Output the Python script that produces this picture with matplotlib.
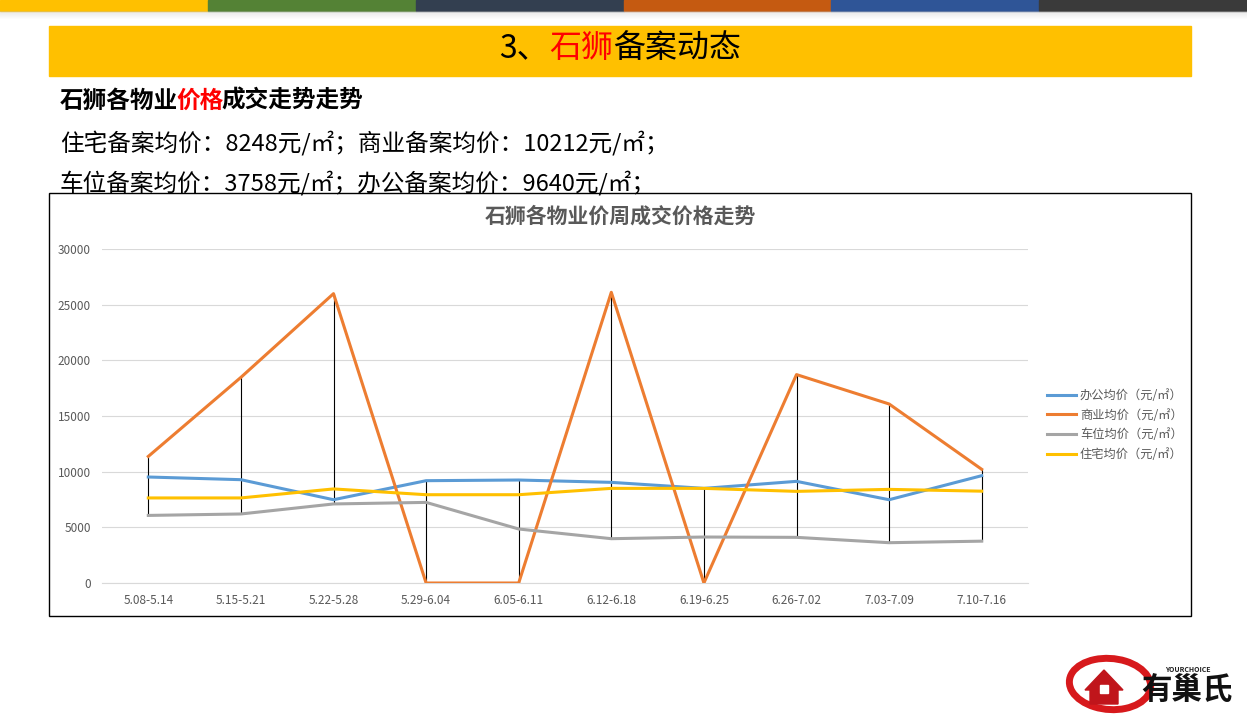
import numpy as np
import matplotlib
matplotlib.use("Agg")
import matplotlib.pyplot as plt
from matplotlib.patches import Rectangle, Ellipse, Polygon

plt.rcParams['font.family'] = ['Noto Sans CJK SC', 'DejaVu Sans']

categories = ["5.08-5.14", "5.15-5.21", "5.22-5.28", "5.29-6.04", "6.05-6.11",
              "6.12-6.18", "6.19-6.25", "6.26-7.02", "7.03-7.09", "7.10-7.16"]
office = [9520, 9280, 7480, 9190, 9250, 9040, 8500, 9130, 7480, 9640]
commercial = [11370, 18470, 25990, 0, 0, 26110, 0, 18720, 16080, 10212]
parking = [6070, 6200, 7100, 7240, 4850, 3980, 4130, 4100, 3620, 3758]
residential = [7640, 7640, 8450, 7930, 7930, 8500, 8500, 8230, 8410, 8248]
series_names = ["办公均价（元/㎡）", "商业均价（元/㎡）", "车位均价（元/㎡）", "住宅均价（元/㎡）"]
series_colors = ["#5B9BD5", "#ED7D31", "#A5A5A5", "#FFC000"]
yticks = [0, 5000, 10000, 15000, 20000, 25000, 30000]

W, H = 1247, 718
fig = plt.figure(figsize=(W / 100, H / 100), dpi=100)
fig.patch.set_facecolor("white")

def fx(px):
    return px / W

def fy(py):
    return 1 - py / H

# top stripe
stripe_colors = ["#FFC000", "#548235", "#333F50", "#C55A11", "#2F5597", "#3A3A3A"]
seg = W / len(stripe_colors)
for i, c in enumerate(stripe_colors):
    fig.patches.append(Rectangle((fx(i * seg), fy(11)), fx(seg), 11 / H,
                                 transform=fig.transFigure, color=c, zorder=1))
for k in range(8):
    fig.patches.append(Rectangle((0, fy(11 + k + 1)), 1, 1 / H, transform=fig.transFigure,
                                 color="#BFBFBF", alpha=0.35 * (1 - k / 8), zorder=1, lw=0))

# yellow title bar
fig.patches.append(Rectangle((fx(49), fy(76)), fx(1191 - 49), 50 / H,
                             transform=fig.transFigure, color="#FFC000", zorder=1))

fig.canvas.draw()
r = fig.canvas.get_renderer()

def text_width(txt, size, weight="normal"):
    t = fig.text(0, 0, txt, fontsize=size, fontweight=weight)
    w = t.get_window_extent(renderer=r).width
    t.remove()
    return w

def seq_text(x_px, y_px, parts, size, weight="normal", trim=0):
    x = x_px
    for txt, col in parts:
        t = fig.text(fx(x), fy(y_px), txt, fontsize=size, color=col, ha="left",
                     va="center", fontweight=weight)
        x += t.get_window_extent(renderer=r).width - trim
    return x

parts_title = [("3、", "black"), ("石狮", "#FF0000"), ("备案动态", "black")]
tw = sum(text_width(t, 23) for t, _ in parts_title)
seq_text(620 - tw / 2, 48, parts_title, 23)

seq_text(60, 101, [("石狮各物业", "black"), ("价格", "#FF0000"), ("成交走势走势", "black")],
         17, "bold", trim=2)
seq_text(60, 144, [("住宅备案均价：8248元/㎡；商业备案均价：10212元/㎡；", "black")], 17)
seq_text(60, 183, [("车位备案均价：3758元/㎡；办公备案均价：9640元/㎡；", "black")], 17)

# chart border
fig.patches.append(Rectangle((fx(49), fy(616)), fx(1191 - 49), (616 - 193) / H,
                             transform=fig.transFigure, fill=False, ec="black", lw=1, zorder=2))
fig.text(fx(620), fy(216), "石狮各物业价周成交价格走势", fontsize=15, fontweight="bold",
         color="#595959", ha="center", va="center")

ax = fig.add_axes([fx(102), fy(583), fx(1028 - 102), (583 - 249) / H])
x = np.arange(len(categories))
all_series = [office, commercial, parking, residential]
arr = np.array(all_series)
ax.vlines(x, arr.min(axis=0), arr.max(axis=0), color="black", lw=0.8, zorder=2)
for vals, name, col in zip(all_series, series_names, series_colors):
    ax.plot(x, vals, color=col, lw=2.2, label=name, zorder=3, solid_joinstyle="round")
ax.set_xlim(-0.5, len(categories) - 0.5)
ax.set_ylim(0, 30000)
ax.set_yticks(yticks)
ax.set_yticklabels([str(v) for v in yticks])
ax.set_xticks(x)
ax.set_xticklabels(categories)
ax.tick_params(axis="both", length=0, labelsize=8.5, colors="#595959", pad=8)
ax.tick_params(axis="y", pad=8)
ax.grid(axis="y", color="#D9D9D9", lw=0.8)
ax.set_axisbelow(True)
for s in ax.spines.values():
    s.set_visible(False)
ax.spines["bottom"].set_visible(True)
ax.spines["bottom"].set_color("#D9D9D9")
ax.patch.set_alpha(0)

leg = fig.legend(loc="upper left", bbox_to_anchor=(fx(1036), fy(378)), frameon=False,
                 fontsize=8.8, handlelength=2.4, handletextpad=0.3, labelspacing=0.55)
for t in leg.get_texts():
    t.set_color("#595959")

# logo
fig.patches.append(Ellipse((fx(1110), fy(684)), fx(80), 52 / H, angle=20,
                           transform=fig.transFigure, fill=False, ec="#D7191C", lw=5, zorder=3))
fig.patches.append(Polygon([(fx(1085), fy(690)), (fx(1104), fy(670)), (fx(1123), fy(690)),
                            (fx(1118), fy(690)), (fx(1118), fy(704)), (fx(1090), fy(704)),
                            (fx(1090), fy(690))], closed=True, transform=fig.transFigure,
                           color="#C0151B", zorder=4))
fig.patches.append(Rectangle((fx(1100), fy(693)), fx(8), 8 / H, transform=fig.transFigure,
                             color="white", zorder=5))
fig.text(fx(1188), fy(669), "YOURCHOICE", fontsize=5, style="italic", fontweight="bold",
         color="#222222", ha="center", va="center")
fig.text(fx(1187), fy(691), "有巢氏", fontsize=22, fontweight="bold", color="#111111",
         ha="center", va="center")

fig.savefig("out.png", dpi=100, facecolor="white")
